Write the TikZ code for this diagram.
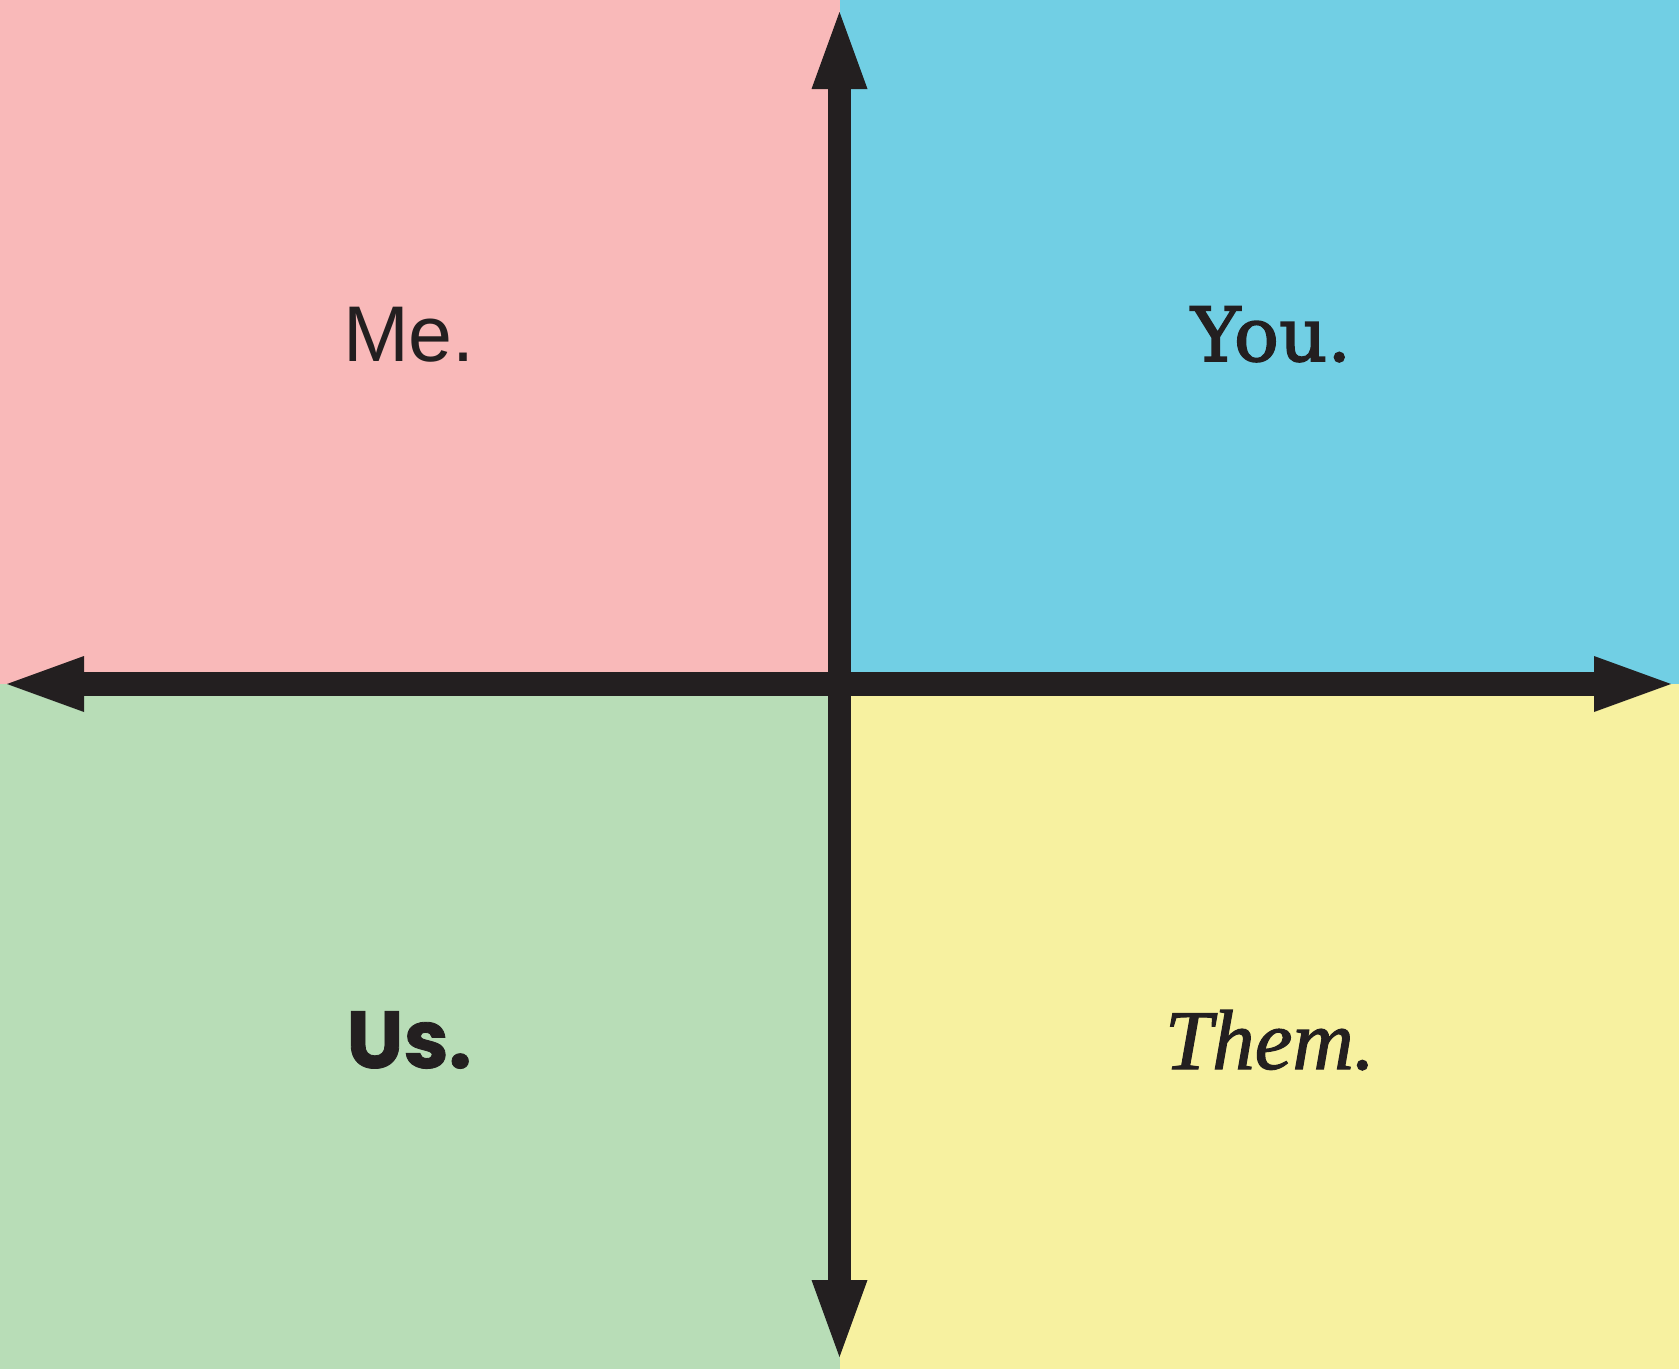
\documentclass[tikz,border=0pt]{standalone}
\usepackage{fontspec}
\usetikzlibrary{arrows.meta}
\newfontfamily\mefont{Liberation Sans}
\newfontfamily\youfont{DejaVu Serif}[UprightFeatures={FakeBold=2}]
\newfontfamily\usfont{Poppins}[BoldFont=* Bold, BoldFeatures={FakeBold=1}]
\newfontfamily\themfont{Liberation Serif}[ItalicFeatures={FakeBold=1.3}]
\definecolor{qpink}{RGB}{249,185,185}
\definecolor{qblue}{RGB}{113,207,228}
\definecolor{qgreen}{RGB}{184,221,183}
\definecolor{qyellow}{RGB}{247,241,160}
\definecolor{qdark}{RGB}{35,31,32}
\tikzset{
  axis/.style={draw=qdark, line width=23.5pt,
    arrows={Triangle[length=77pt,width=56pt,line width=0pt]-Triangle[length=77pt,width=56pt,line width=0pt]}},
  label/.style={text=qdark, anchor=base, inner sep=0pt}
}
\begin{document}
\begin{tikzpicture}[x=1pt,y=-1pt]
\useasboundingbox (0,0) rectangle (1679,1369);
% quadrants
\fill[qpink]   (0,0) rectangle (839.5,684);
\fill[qblue]   (839.5,0) rectangle (1679,684);
\fill[qgreen]  (0,684) rectangle (839.5,1369);
\fill[qyellow] (839.5,684) rectangle (1679,1369);
% axis end points
\coordinate (top) at (839.5,12);
\coordinate (bottom) at (839.5,1357);
\coordinate (left) at (7,684);
\coordinate (right) at (1671,684);
\draw[axis] (left) -- (right);
\draw[axis] (bottom) -- (top);
% labels
\node[label, font=\mefont\fontsize{79}{79}\selectfont] (me) at (409,361) {Me.};
\node[label, font=\youfont\fontsize{75}{75}\selectfont] (you) at (1271,361) {You.};
\node[label, font=\usfont\bfseries\fontsize{81}{81}\selectfont] (us) at (409,1068) {Us.};
\node[label, font=\themfont\itshape\fontsize{85}{85}\selectfont] (them) at (1270,1069) {Them.};
\end{tikzpicture}
\end{document}
